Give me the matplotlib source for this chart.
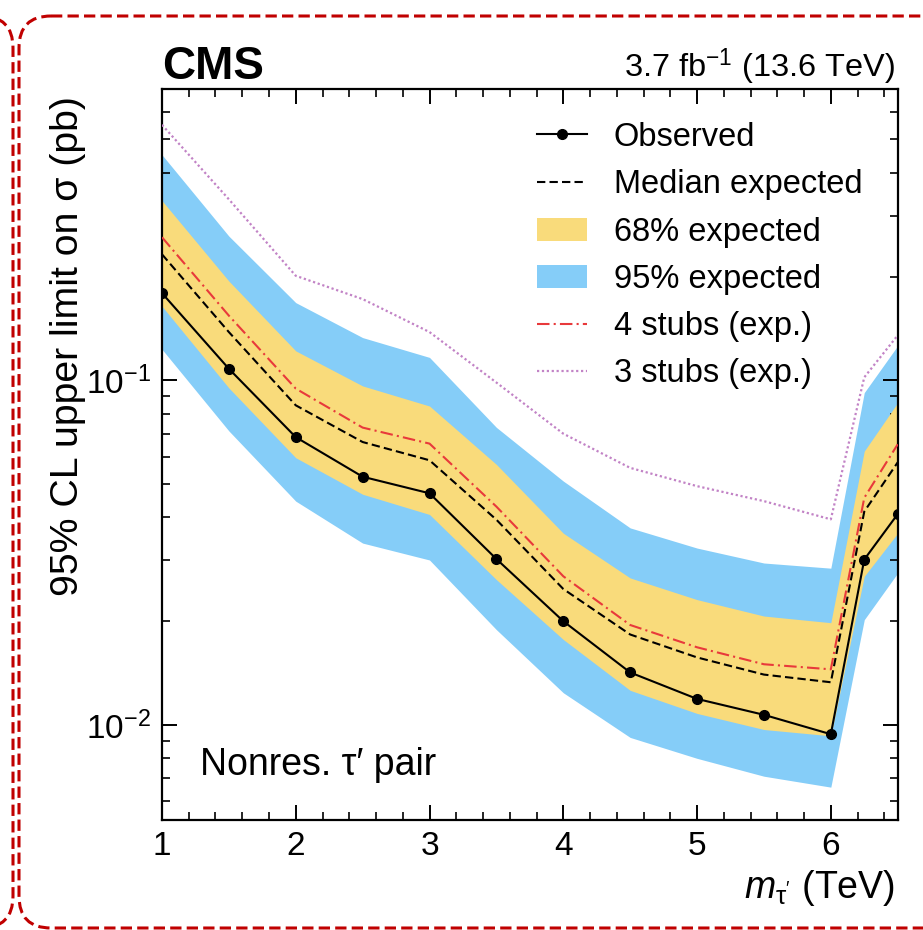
import matplotlib
matplotlib.use("Agg")
import matplotlib.pyplot as plt
from matplotlib.patches import FancyBboxPatch, Patch
from matplotlib.lines import Line2D
from matplotlib.ticker import MultipleLocator, LogLocator, NullFormatter

plt.rcParams['font.family'] = ['Liberation Sans', 'DejaVu Sans']
plt.rcParams['mathtext.fontset'] = 'custom'
plt.rcParams['mathtext.rm'] = 'Liberation Sans'
plt.rcParams['mathtext.it'] = 'Liberation Sans:italic'
plt.rcParams['mathtext.bf'] = 'Liberation Sans:bold'

# tau' mass points (TeV)
mass = [1, 1.5, 2, 2.5, 3, 3.5, 4, 4.5, 5, 5.5, 6, 6.25, 6.5]

# limits in pb
observed = [0.179, 0.108, 0.0684, 0.0525, 0.0470, 0.0303, 0.0200, 0.0142, 0.0119, 0.0107, 0.0094, 0.0302, 0.0409]
expected = [0.232, 0.138, 0.0846, 0.0662, 0.0586, 0.0394, 0.0248, 0.0183, 0.0157, 0.0140, 0.0133, 0.0416, 0.0578]
exp68_up = [0.332, 0.194, 0.1217, 0.0963, 0.0842, 0.057, 0.036, 0.0267, 0.0231, 0.0207, 0.0198, 0.0623, 0.0861]
exp68_dn = [0.164, 0.095, 0.0596, 0.0467, 0.0408, 0.0264, 0.0177, 0.0126, 0.0108, 0.0097, 0.0093, 0.027, 0.036]
exp95_up = [0.451, 0.262, 0.168, 0.133, 0.1165, 0.073, 0.051, 0.0373, 0.0326, 0.0295, 0.0285, 0.0921, 0.126]
exp95_dn = [0.123, 0.0713, 0.0446, 0.0337, 0.0301, 0.0189, 0.0124, 0.0092, 0.0080, 0.0071, 0.0066, 0.0202, 0.0276]
stubs4 = [0.260, 0.154, 0.0946, 0.0729, 0.0655, 0.043, 0.027, 0.0195, 0.0168, 0.0150, 0.0145, 0.0456, 0.0652]
stubs3 = [0.551, 0.335, 0.201, 0.172, 0.138, 0.0985, 0.070, 0.0557, 0.0493, 0.0446, 0.0395, 0.102, 0.135]

yellow = '#f9db7b'
blue = '#85cdf8'
red = '#e8393b'
purple = '#c283c6'
frame_red = '#c00000'

fig = plt.figure(figsize=(9.23, 9.30), dpi=100)

# dashed rounded frames around the figure (pixel coords)
bg = fig.add_axes([0, 0, 1, 1])
bg.set_xlim(0, 923)
bg.set_ylim(930, 0)
bg.axis('off')
for x0, w in [(19, 1000), (-300, 313)]:
    box = FancyBboxPatch((x0, 16), w, 912, boxstyle='round,pad=0,rounding_size=32',
                         fill=False, ec=frame_red, lw=2.2, ls=(0, (3.7, 1.7)))
    bg.add_patch(box)

ax = fig.add_axes([0.1755, 0.1183, 0.7971, 0.786])

ax.fill_between(mass, exp95_dn, exp95_up, color=blue, lw=0, zorder=1)
ax.fill_between(mass, exp68_dn, exp68_up, color=yellow, lw=0, zorder=2)
ax.plot(mass, stubs3, ls=(0, (1, 1.2)), color=purple, lw=1.6, zorder=3)
ax.plot(mass, stubs4, ls=(0, (6, 2, 1, 2)), color=red, lw=1.5, zorder=3)
ax.plot(mass, expected, ls=(0, (4, 2)), color='black', lw=1.5, zorder=4)
ax.plot(mass, observed, '-o', color='black', lw=1.5, ms=7, zorder=5)

ax.set_yscale('log')
ax.set_xlim(1, 6.5)
ax.set_ylim(0.0053, 0.7)

ax.xaxis.set_major_locator(MultipleLocator(1))
ax.xaxis.set_minor_locator(MultipleLocator(0.2))
ax.yaxis.set_minor_locator(LogLocator(base=10, subs=range(2, 10)))
ax.yaxis.set_minor_formatter(NullFormatter())

ax.tick_params(which='both', direction='in', top=True, right=True, labelsize=24)
ax.tick_params(which='major', length=11, width=1.4, pad=8)
ax.tick_params(which='minor', length=6, width=1.2)
for s in ax.spines.values():
    s.set_linewidth(1.6)

ax.set_ylabel('95% CL upper limit on σ (pb)', fontsize=28.3, loc='top')
ax.yaxis.set_label_coords(-0.103, 0.99)
ax.set_xlabel(r"$m_{\mathrm{\tau}^{\prime}}$ (TeV)", fontsize=27, loc='right')
ax.xaxis.set_label_coords(0.997, -0.066)

ax.text(0.0, 1.0137, 'CMS', transform=ax.transAxes, fontsize=33, fontweight='bold',
        ha='left', va='baseline')
ax.text(0.996, 1.0164, r'3.7 fb$^{-1}$ (13.6 TeV)', transform=ax.transAxes, fontsize=23.4,
        ha='right', va='baseline')
ax.text(0.0516, 0.062, 'Nonres. τ′ pair', transform=ax.transAxes, fontsize=27,
        ha='left', va='baseline')

handles = [
    Line2D([], [], color='black', marker='o', ms=7, lw=1.5),
    Line2D([], [], color='black', ls=(0, (4, 2)), lw=1.5),
    Patch(facecolor=yellow, edgecolor='none'),
    Patch(facecolor=blue, edgecolor='none'),
    Line2D([], [], color=red, ls=(0, (6, 2, 1, 2)), lw=1.5),
    Line2D([], [], color=purple, ls=(0, (1, 1.2)), lw=1.6),
]
labels = ['Observed', 'Median expected', '68% expected', '95% expected',
          '4 stubs (exp.)', '3 stubs (exp.)']
ax.legend(handles, labels, loc='upper left', bbox_to_anchor=(0.5095, 0.955), frameon=False,
          fontsize=23.5, handlelength=1.55, handletextpad=0.8, labelspacing=0.5,
          borderpad=0, borderaxespad=0)

fig.savefig('out.png', dpi=100)
